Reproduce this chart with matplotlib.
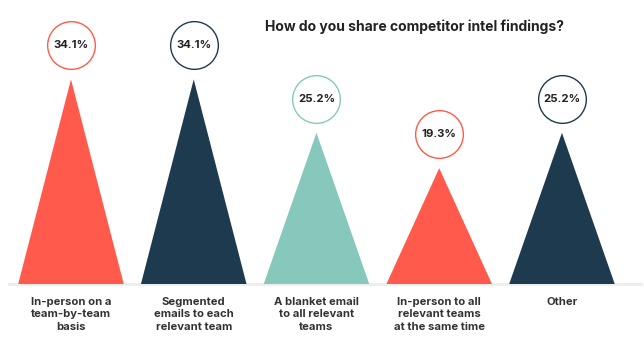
import matplotlib.pyplot as plt
import matplotlib.transforms as mtransforms

# data
categories = ["In-person on a\nteam-by-team\nbasis",
              "Segmented\nemails to each\nrelevant team",
              "A blanket email\nto all relevant\nteams",
              "In-person to all\nrelevant teams\nat the same time",
              "Other"]
values = [34.1, 34.1, 25.2, 19.3, 25.2]
value_labels = ["34.1%", "34.1%", "25.2%", "19.3%", "25.2%"]
colors = ["#ff5a4b", "#1e3a4f", "#86c9bc", "#ff5a4b", "#1e3a4f"]

plt.rcParams["font.family"] = ["Inter", "DejaVu Sans"]

fig = plt.figure(figsize=(6.44, 3.53), dpi=100)
W, H = 644, 353
base_px = 284          # baseline, pixels from top
ax = fig.add_axes([9 / W, (H - base_px) / H, (641 - 9) / W, base_px / H])
ax.set_xlim(-0.505, 4.644)
ax.set_ylim(0, base_px / 6.0)
ax.axis("off")

half = 0.43
for i, (v, c) in enumerate(zip(values, colors)):
    ax.fill([i - half, i, i + half], [0, v, 0], color=c, lw=0, zorder=2)

# baseline
ax.axhline(0, color="#eeeeee", lw=2.2, zorder=1, clip_on=False)

# circles with the value above each apex
up = mtransforms.offset_copy(ax.transData, fig=fig, y=34, units="dots")
for i, (v, c, t) in enumerate(zip(values, colors, value_labels)):
    ax.scatter([i], [v], s=1180, facecolor="white", edgecolor=c,
               linewidth=1.0, transform=up, zorder=3, clip_on=False)
    ax.text(i, v, t, transform=up, ha="center", va="center",
            fontsize=8.2, fontweight="bold", color="#222222", zorder=4)

# category labels below the baseline
down = mtransforms.offset_copy(ax.transData, fig=fig, y=-13, units="dots")
for i, lab in enumerate(categories):
    ax.text(i, 0, lab, transform=down, ha="center", va="top",
            fontsize=8.1, fontweight="bold", color="#333333",
            linespacing=1.3)

fig.text(265 / W, 1 - 27 / H, "How do you share competitor intel findings?",
         ha="left", va="center", fontsize=10, fontweight="bold",
         color="#222222")

fig.savefig("out.png", dpi=100)
